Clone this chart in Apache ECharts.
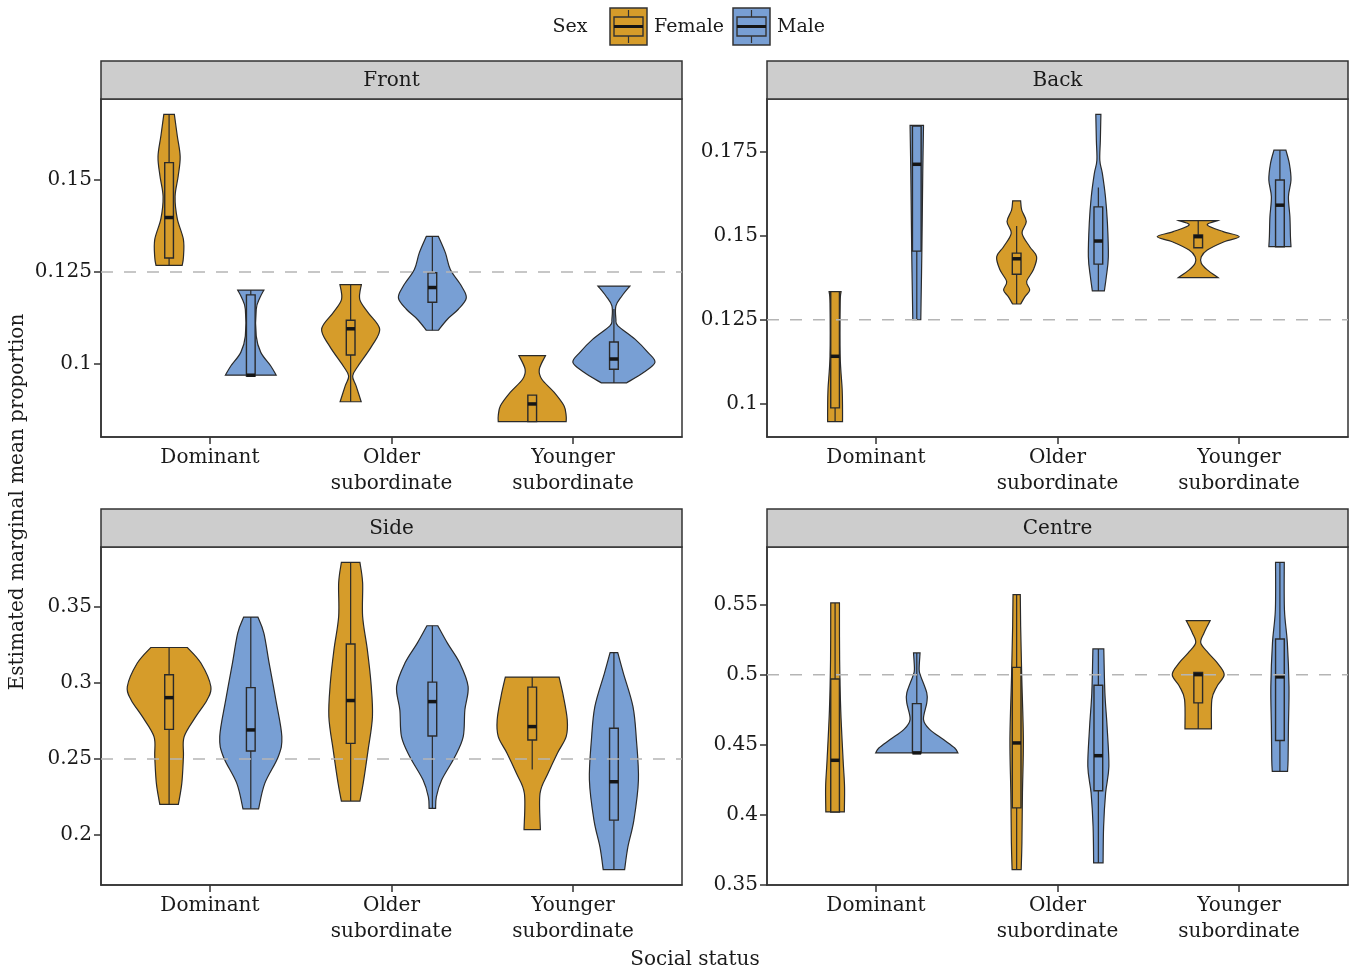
<!DOCTYPE html>
<html><head><meta charset="utf-8">
<script src="https://cdn.jsdelivr.net/npm/echarts@6/dist/echarts.min.js"></script>
<style>html,body{margin:0;padding:0;background:#fff}#c{width:1354px;height:973px}</style>
</head><body><div id="c"></div>
<script>
// ---------------- DATA ----------------
const categories = ['Dominant', 'Older\nsubordinate', 'Younger\nsubordinate'];
const sexes = ['Female', 'Male'];
const panelTitles = ['Front', 'Back', 'Side', 'Centre'];
const frontTicks = [0.1, 0.125, 0.15];
const backTicks = [0.1, 0.125, 0.15, 0.175];
const sideTicks = [0.2, 0.25, 0.3, 0.35];
const centreTicks = [0.35, 0.4, 0.45, 0.5, 0.55];
const referenceLines = [0.125, 0.125, 0.25, 0.5];

// violin profiles: [value, half-width in category units], top to bottom
const frontFemaleViolin = [
  [[0.1678,0.029],[0.1620,0.045],[0.1563,0.061],[0.1510,0.050],[0.1455,0.033],[0.1395,0.045],[0.1338,0.079],[0.1290,0.079],[0.1268,0.072]],
  [[0.1216,0.059],[0.1176,0.050],[0.1140,0.096],[0.1095,0.160],[0.1049,0.116],[0.0995,0.041],[0.0968,0.011],[0.0941,0.030],[0.0898,0.058]],
  [[0.1023,0.073],[0.0986,0.039],[0.0959,0.053],[0.0924,0.120],[0.0887,0.175],[0.0860,0.187],[0.0844,0.187]]
];
const frontMaleViolin = [
  [[0.1201,0.072],[0.1180,0.050],[0.1149,0.030],[0.1076,0.030],[0.1032,0.055],[0.0995,0.110],[0.0970,0.140]],
  [[0.1347,0.033],[0.1302,0.072],[0.1257,0.099],[0.1212,0.160],[0.1180,0.187],[0.1149,0.143],[0.1122,0.083],[0.1092,0.033]],
  [[0.1212,0.088],[0.1185,0.044],[0.1158,0.011],[0.1122,0.011],[0.1104,0.022],[0.1068,0.116],[0.1032,0.187],[0.1005,0.226],[0.0978,0.165],[0.0949,0.069]]
];
const backFemaleViolin = [
  [[0.1334,0.033],[0.1300,0.028],[0.1141,0.028],[0.1042,0.039],[0.0982,0.041],[0.0946,0.041]],
  [[0.1605,0.022],[0.1577,0.028],[0.1543,0.053],[0.1508,0.030],[0.1468,0.072],[0.1438,0.110],[0.1399,0.092],[0.1364,0.055],[0.1339,0.072],[0.1319,0.046],[0.1297,0.022]],
  [[0.1546,0.107],[0.1533,0.050],[0.1513,0.138],[0.1498,0.226],[0.1483,0.143],[0.1458,0.050],[0.1438,0.017],[0.1419,0.017],[0.1399,0.050],[0.1376,0.109]]
];
const backMaleViolin = [
  [[0.1830,0.037],[0.1696,0.033],[0.1458,0.028],[0.1250,0.022]],
  [[0.1863,0.014],[0.1786,0.011],[0.1726,0.008],[0.1687,0.022],[0.1617,0.039],[0.1538,0.050],[0.1438,0.055],[0.1379,0.044],[0.1336,0.033]],
  [[0.1756,0.033],[0.1716,0.052],[0.1667,0.061],[0.1617,0.047],[0.1557,0.055],[0.1498,0.058],[0.1468,0.061]]
];
const sideFemaleViolin = [
  [[0.3232,0.101],[0.3130,0.175],[0.2976,0.230],[0.2888,0.209],[0.2778,0.147],[0.2647,0.083],[0.2515,0.079],[0.2340,0.070],[0.2202,0.051]],
  [[0.3791,0.051],[0.3656,0.066],[0.3436,0.066],[0.3217,0.092],[0.2998,0.112],[0.2778,0.120],[0.2559,0.096],[0.2340,0.069],[0.2224,0.051]],
  [[0.3038,0.148],[0.2910,0.172],[0.2757,0.193],[0.2647,0.187],[0.2537,0.138],[0.2406,0.087],[0.2274,0.043],[0.2037,0.045]]
];
const sideMaleViolin = [
  [[0.3432,0.039],[0.3327,0.072],[0.3130,0.101],[0.2888,0.138],[0.2647,0.171],[0.2515,0.151],[0.2340,0.077],[0.2173,0.043]],
  [[0.3375,0.030],[0.3261,0.083],[0.3130,0.151],[0.2976,0.197],[0.2822,0.179],[0.2647,0.170],[0.2515,0.124],[0.2362,0.051],[0.2252,0.022],[0.2176,0.018]],
  [[0.3199,0.021],[0.3064,0.052],[0.2844,0.105],[0.2625,0.124],[0.2362,0.135],[0.2099,0.110],[0.1923,0.077],[0.1774,0.059]]
];
const centreFemaleViolin = [
  [[0.5512,0.024],[0.5107,0.025],[0.4750,0.031],[0.4393,0.044],[0.4202,0.052],[0.4019,0.051]],
  [[0.5571,0.020],[0.5345,0.022],[0.4988,0.028],[0.4536,0.037],[0.4155,0.032],[0.3798,0.029],[0.3607,0.025]],
  [[0.5386,0.066],[0.5298,0.032],[0.5226,0.014],[0.5155,0.055],[0.5084,0.105],[0.5000,0.143],[0.4916,0.103],[0.4821,0.075],[0.4612,0.073]]
];
const centreMaleViolin = [
  [[0.5155,0.018],[0.5036,0.013],[0.4988,0.022],[0.4869,0.055],[0.4798,0.055],[0.4679,0.037],[0.4607,0.072],[0.4536,0.147],[0.4476,0.209],[0.4441,0.226]],
  [[0.5184,0.030],[0.4869,0.036],[0.4631,0.048],[0.4345,0.058],[0.4155,0.040],[0.3916,0.029],[0.3655,0.026]],
  [[0.5802,0.024],[0.5464,0.025],[0.5226,0.041],[0.4916,0.050],[0.4631,0.047],[0.4393,0.045],[0.4309,0.042]]
];

// box stats: [lower whisker, Q1, median, Q3, upper whisker]
const frontFemaleBox = [[0.1268,0.1288,0.1398,0.1547,0.1678],[0.0898,0.1025,0.1096,0.1119,0.1216],[0.0844,0.0844,0.0892,0.0916,0.0916]];
const frontMaleBox   = [[0.0968,0.0968,0.0970,0.1188,0.1201],[0.1092,0.1168,0.1208,0.1248,0.1347],[0.0949,0.0986,0.1014,0.1060,0.1150]];
const backFemaleBox  = [[0.0946,0.0987,0.1141,0.1334,0.1334],[0.1297,0.1386,0.1432,0.1449,0.1530],[0.1465,0.1465,0.1498,0.1503,0.1546]];
const backMaleBox    = [[0.1250,0.1455,0.1714,0.1828,0.1830],[0.1336,0.1416,0.1485,0.1587,0.1645],[0.1468,0.1468,0.1592,0.1667,0.1756]];
const sideFemaleBox  = [[0.2202,0.2695,0.2903,0.3053,0.3232],[0.2224,0.2603,0.2884,0.3255,0.3791],[0.2432,0.2625,0.2713,0.2972,0.3038]];
const sideMaleBox    = [[0.2173,0.2553,0.2691,0.2969,0.3432],[0.2176,0.2651,0.2877,0.3005,0.3375],[0.1774,0.2099,0.2351,0.2702,0.3199]];
const centreFemaleBox= [[0.4019,0.4019,0.4388,0.4969,0.5512],[0.3607,0.4048,0.4512,0.5052,0.5571],[0.4612,0.4798,0.5000,0.5016,0.5016]];
const centreMaleBox  = [[0.4441,0.4441,0.4441,0.4793,0.5155],[0.3655,0.4171,0.4421,0.4924,0.5184],[0.4309,0.4529,0.4984,0.5255,0.5802]];

// ---------------- CHART ----------------
const FONT = '"DejaVu Serif", "Liberation Serif", serif';
const FS = 20;
const TXT = '#1a1a1a';
const COLORS = ['#D69C2A', '#789FD4'];
const EDGE = '#2a2a2a';
const DODGE = 0.225, BOXW = 0.024;

const panels = [
  {ticks: frontTicks,  v: [frontFemaleViolin, frontMaleViolin],   b: [frontFemaleBox, frontMaleBox]},
  {ticks: backTicks,   v: [backFemaleViolin, backMaleViolin],     b: [backFemaleBox, backMaleBox]},
  {ticks: sideTicks,   v: [sideFemaleViolin, sideMaleViolin],     b: [sideFemaleBox, sideMaleBox]},
  {ticks: centreTicks, v: [centreFemaleViolin, centreMaleViolin], b: [centreFemaleBox, centreMaleBox]}
];
const gridPos = [
  {left: 101, top: 99}, {left: 767, top: 99}, {left: 101, top: 547}, {left: 767, top: 547}
];
const GW = 581, GH = 338, STRIP = 38;
const X_MIN = 0.4, X_MAX = 3.6;

function crPath(p) {
  let s = '';
  for (let i = 0; i < p.length - 1; i++) {
    const p0 = p[Math.max(i - 1, 0)], p1 = p[i], p2 = p[i + 1], p3 = p[Math.min(i + 2, p.length - 1)];
    const c1 = [p1[0] + (p2[0] - p0[0]) / 6, p1[1] + (p2[1] - p0[1]) / 6];
    const c2 = [p2[0] - (p3[0] - p1[0]) / 6, p2[1] - (p3[1] - p1[1]) / 6];
    s += 'C' + c1[0] + ',' + c1[1] + ' ' + c2[0] + ',' + c2[1] + ' ' + p2[0] + ',' + p2[1];
  }
  return s;
}

function makeRender(profiles, boxes, offset, color) {
  return function (params, api) {
    const k = params.dataIndex;
    const prof = profiles[k], box = boxes[k];
    const xc = api.value(0) + offset;
    const right = prof.map(d => api.coord([xc + d[1], d[0]]));
    const left = prof.map(d => api.coord([xc - d[1], d[0]]));
    const leftRev = left.slice().reverse();
    const pathData = 'M' + left[0][0] + ',' + left[0][1] + 'L' + right[0][0] + ',' + right[0][1] +
      crPath(right) + 'L' + leftRev[0][0] + ',' + leftRev[0][1] + crPath(leftRev) + 'Z';
    const wLo = api.coord([xc, box[0]]), wHi = api.coord([xc, box[4]]);
    const bTL = api.coord([xc - BOXW, box[3]]), bBR = api.coord([xc + BOXW, box[1]]);
    const mL = api.coord([xc - BOXW, box[2]]), mR = api.coord([xc + BOXW, box[2]]);
    return {
      type: 'group',
      children: [
        {type: 'path', shape: {pathData: pathData}, style: {fill: color, stroke: EDGE, lineWidth: 1.2}},
        {type: 'line', shape: {x1: wLo[0], y1: wLo[1], x2: wHi[0], y2: wHi[1]}, style: {stroke: EDGE, lineWidth: 1.2}},
        {type: 'rect', shape: {x: bTL[0], y: bTL[1], width: bBR[0] - bTL[0], height: Math.max(bBR[1] - bTL[1], 0.5)},
          style: {fill: color, stroke: EDGE, lineWidth: 1.4}},
        {type: 'line', shape: {x1: mL[0], y1: mL[1], x2: mR[0], y2: mR[1]}, style: {stroke: '#151515', lineWidth: 3.5}}
      ]
    };
  };
}

const grids = [], xAxes = [], yAxes = [], series = [], graphics = [];
panels.forEach((p, i) => {
  // y-range: data extent expanded by 5% each side
  let lo = Infinity, hi = -Infinity;
  p.v.forEach(sv => sv.forEach(prof => prof.forEach(d => { lo = Math.min(lo, d[0]); hi = Math.max(hi, d[0]); })));
  const pad = (hi - lo) * 0.05;
  grids.push({left: gridPos[i].left, top: gridPos[i].top, width: GW, height: GH, show: true,
    borderColor: '#333', borderWidth: 1.5, backgroundColor: '#fff', containLabel: false});
  xAxes.push({gridIndex: i, type: 'value', min: X_MIN, max: X_MAX,
    axisLine: {show: true, onZero: false, lineStyle: {color: '#333', width: 1.5}},
    axisTick: {show: true, customValues: [1, 2, 3], length: 7, lineStyle: {color: '#333', width: 1.5}},
    axisLabel: {customValues: [1, 2, 3], formatter: v => categories[Math.round(v) - 1],
      fontFamily: FONT, fontSize: FS, lineHeight: 26, color: TXT, margin: 8},
    splitLine: {show: false}});
  yAxes.push({gridIndex: i, type: 'value', min: lo - pad, max: hi + pad,
    axisLine: {show: true, onZero: false, lineStyle: {color: '#333', width: 1.5}},
    axisTick: {show: true, customValues: p.ticks, length: 7, lineStyle: {color: '#333', width: 1.5}},
    axisLabel: {customValues: p.ticks, formatter: v => String(+(+v).toFixed(3)),
      fontFamily: FONT, fontSize: FS, color: TXT, margin: 9},
    splitLine: {show: false}});
  [0, 1].forEach(s => {
    const data = p.b[s].map((b, k) => [k + 1, b[0], b[4]]);
    series.push({type: 'custom', name: sexes[s], xAxisIndex: i, yAxisIndex: i, z: 2,
      renderItem: makeRender(p.v[s], p.b[s], s === 0 ? -DODGE : DODGE, COLORS[s]),
      encode: {x: 0, y: [1, 2]}, data: data, clip: false});
  });
  // dashed reference line across the panel
  series.push({type: 'line', xAxisIndex: i, yAxisIndex: i, z: 5, silent: true, symbol: 'none',
    data: [[X_MIN, referenceLines[i]], [X_MAX, referenceLines[i]]],
    lineStyle: {color: '#b5b5b5', type: [12, 11], width: 1.5}});
  // strip
  graphics.push({type: 'rect', shape: {x: gridPos[i].left, y: gridPos[i].top - STRIP, width: GW, height: STRIP},
    style: {fill: '#CDCDCD', stroke: '#333', lineWidth: 1.5}, z: 10});
  graphics.push({type: 'text', x: gridPos[i].left + GW / 2, y: gridPos[i].top - STRIP / 2 + 1,
    style: {text: panelTitles[i], font: FS + 'px ' + FONT, fill: TXT, textAlign: 'center', textVerticalAlign: 'middle'}, z: 11});
});

// legend
const LFS = 19;
function legendKey(x, color) {
  return [
    {type: 'rect', shape: {x: x, y: 8, width: 37, height: 37}, style: {fill: color, stroke: '#333', lineWidth: 1.5}, z: 10},
    {type: 'line', shape: {x1: x + 18.5, y1: 10, x2: x + 18.5, y2: 17}, style: {stroke: '#333', lineWidth: 1.2}, z: 11},
    {type: 'line', shape: {x1: x + 18.5, y1: 36, x2: x + 18.5, y2: 43}, style: {stroke: '#333', lineWidth: 1.2}, z: 11},
    {type: 'rect', shape: {x: x + 4, y: 17, width: 29, height: 19}, style: {fill: color, stroke: '#333', lineWidth: 1.4}, z: 11},
    {type: 'line', shape: {x1: x + 4, y1: 26.5, x2: x + 33, y2: 26.5}, style: {stroke: '#151515', lineWidth: 3}, z: 12}
  ];
}
graphics.push({type: 'text', x: 570, y: 27, style: {text: 'Sex', font: LFS + 'px ' + FONT, fill: TXT, textAlign: 'center', textVerticalAlign: 'middle'}});
legendKey(610, COLORS[0]).forEach(g => graphics.push(g));
graphics.push({type: 'text', x: 654, y: 27, style: {text: sexes[0], font: LFS + 'px ' + FONT, fill: TXT, textAlign: 'left', textVerticalAlign: 'middle'}});
legendKey(733, COLORS[1]).forEach(g => graphics.push(g));
graphics.push({type: 'text', x: 777, y: 27, style: {text: sexes[1], font: LFS + 'px ' + FONT, fill: TXT, textAlign: 'left', textVerticalAlign: 'middle'}});
// axis titles
graphics.push({type: 'text', x: 18, y: 502, rotation: Math.PI / 2,
  style: {text: 'Estimated marginal mean proportion', font: FS + 'px ' + FONT, fill: TXT, textAlign: 'center', textVerticalAlign: 'middle'}});
graphics.push({type: 'text', x: 695, y: 960,
  style: {text: 'Social status', font: FS + 'px ' + FONT, fill: TXT, textAlign: 'center', textVerticalAlign: 'middle'}});

const chart = echarts.init(document.getElementById('c'), null, {renderer: 'canvas'});
chart.setOption({
  animation: false,
  backgroundColor: '#fff',
  grid: grids, xAxis: xAxes, yAxis: yAxes, series: series,
  graphic: {elements: graphics}
});
</script></body></html>
